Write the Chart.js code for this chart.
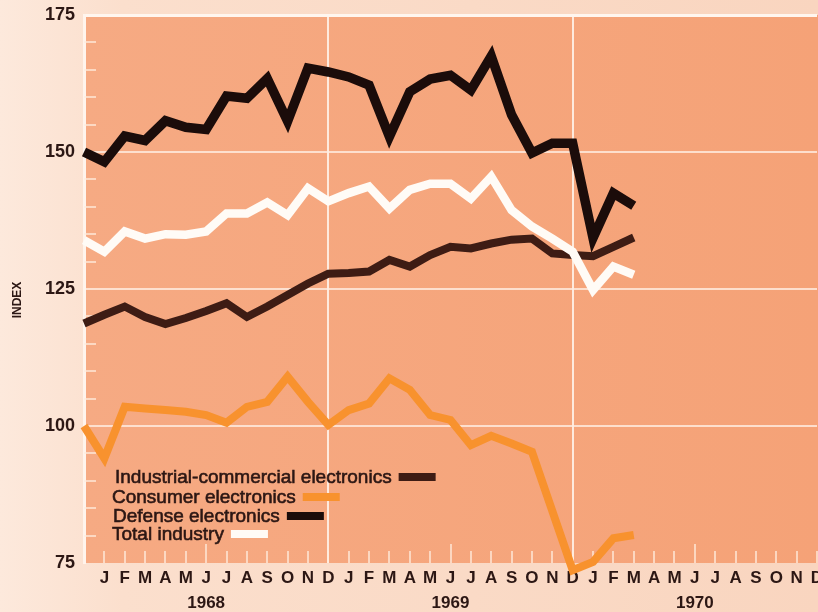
<!DOCTYPE html>
<html><head><meta charset="utf-8">
<script src="https://cdn.jsdelivr.net/npm/chart.js@4/dist/chart.umd.min.js"></script>
<style>html,body{margin:0;padding:0;background:#FBDCC8;}canvas{display:block;}</style>
</head><body>
<canvas id="c" width="818" height="612"></canvas>
<script>
// ---- data ----
const monthLetters = ['J','F','M','A','M','J','J','A','S','O','N','D'];
const years = ['1968','1969','1970'];
const startCategory = 'D 1967';
const yTickValues = [75, 100, 125, 150, 175];
const seriesNames = ['Industrial-commercial electronics', 'Consumer electronics', 'Defense electronics', 'Total industry'];
// Dec 1967 .. Mar 1970
const industrial = [118.7,120.3,121.8,119.9,118.6,119.7,121.0,122.4,119.9,121.8,123.9,126.0,127.8,127.9,128.2,130.3,129.1,131.2,132.7,132.4,133.3,134.0,134.2,131.5,131.2,131.0,132.7,134.4];
const consumer   = [100.0,94.1,103.5,103.2,102.9,102.6,102.0,100.6,103.5,104.4,109.0,104.4,100.2,102.9,104.1,108.7,106.6,102.0,101.1,96.5,98.2,96.8,95.3,84.5,73.7,75.2,79.5,80.1];
const defense    = [150.0,148.2,152.9,152.1,155.7,154.5,154.1,160.2,159.8,163.4,155.6,165.3,164.6,163.7,162.2,152.8,161.0,163.3,164.0,161.3,167.5,156.8,149.8,151.6,151.6,134.3,142.5,140.2];
const total      = [133.9,131.8,135.5,134.2,135.0,134.9,135.5,138.8,138.8,140.8,138.5,143.4,141.0,142.5,143.7,139.7,143.1,144.2,144.2,141.5,145.5,139.4,136.4,134.2,131.8,124.8,129.1,127.6];

const categories = [startCategory];
years.forEach(y => monthLetters.forEach(m => categories.push(m + ' ' + y)));

const COLORS = {
  industrial: '#3e1c14',
  consumer: '#F8922E',
  defense: '#1b0c0a',
  total: '#FFFBF6',
  text: '#2c1714'
};

const bgPlugin = {
  id: 'bg',
  beforeDraw(chart) {
    const {ctx, chartArea: a, width, height} = chart;
    ctx.save();
    const g = ctx.createLinearGradient(0, 0, width, 0);
    g.addColorStop(0, '#FDE9DC');
    g.addColorStop(0.15, '#FBDFCD');
    g.addColorStop(1, '#F9D5BF');
    ctx.fillStyle = g;
    ctx.fillRect(0, 0, width, height);
    const g2 = ctx.createLinearGradient(a.left, 0, a.right, 0);
    g2.addColorStop(0, '#F6AA83');
    g2.addColorStop(1, '#F5A277');
    ctx.fillStyle = g2;
    ctx.fillRect(a.left, a.top, width - a.left, a.bottom - a.top);
    ctx.restore();
  }
};

const minorTicksPlugin = {
  id: 'minorTicks',
  beforeDatasetsDraw(chart) {
    const {ctx, chartArea: a, scales} = chart;
    ctx.save();
    ctx.strokeStyle = 'rgba(255,236,222,0.7)';
    ctx.lineWidth = 2;
    for (let v = 80; v < 175; v += 5) {
      if (v % 25 === 0) continue;
      const y = Math.round(scales.y.getPixelForValue(v));
      ctx.beginPath(); ctx.moveTo(a.left, y); ctx.lineTo(a.left + 12, y); ctx.stroke();
    }
    for (let i = 1; i < categories.length; i++) {
      const x = Math.round(scales.x.getPixelForValue(i));
      const len = ((i - 1) % 12 === 5) ? 19 : 12;
      ctx.beginPath(); ctx.moveTo(x, a.bottom); ctx.lineTo(x, a.bottom - len); ctx.stroke();
    }
    ctx.restore();
  }
};

const legendPlugin = {
  id: 'customLegend',
  afterDatasetsDraw(chart) {
    const {ctx, chartArea: a} = chart;
    const items = [
      {name: seriesNames[0], color: COLORS.industrial, dx: 31, dy: 80},
      {name: seriesNames[1], color: COLORS.consumer, dx: 28, dy: 60},
      {name: seriesNames[2], color: COLORS.defense, dx: 29, dy: 41},
      {name: seriesNames[3], color: COLORS.total, dx: 28, dy: 23}
    ];
    ctx.save();
    ctx.font = '19px "Liberation Sans", Arial, sans-serif';
    ctx.textBaseline = 'alphabetic';
    ctx.textAlign = 'left';
    ctx.lineWidth = 0.6;
    items.forEach(it => {
      const x = a.left + it.dx, y = a.bottom - it.dy;
      ctx.fillStyle = COLORS.text;
      ctx.strokeStyle = COLORS.text;
      ctx.fillText(it.name, x, y);
      ctx.strokeText(it.name, x, y);
      const w = ctx.measureText(it.name).width;
      ctx.fillStyle = it.color;
      ctx.fillRect(x + w + 7, y - 10, 37, 8);
    });
    ctx.restore();
  }
};

const indexLabelPlugin = {
  id: 'indexLabel',
  afterDraw(chart) {
    const {ctx} = chart;
    ctx.save();
    ctx.translate(18, 300);
    ctx.rotate(-Math.PI / 2);
    ctx.font = 'bold 12px "Liberation Sans", Arial, sans-serif';
    ctx.fillStyle = COLORS.text;
    ctx.textAlign = 'center';
    ctx.textBaseline = 'middle';
    ctx.fillText('INDEX', 0, 0);
    ctx.restore();
  }
};

function ds(label, data, color, width, order) {
  return {
    label, data, borderColor: color, backgroundColor: color,
    borderWidth: width, pointRadius: 0, tension: 0,
    borderJoinStyle: 'miter', borderCapStyle: 'butt',
    clip: false, order, fill: false
  };
}

new Chart(document.getElementById('c'), {
  type: 'line',
  data: {
    labels: categories,
    datasets: [
      ds(seriesNames[0], industrial, COLORS.industrial, 8, 2),
      ds(seriesNames[1], consumer, COLORS.consumer, 8, 3),
      ds(seriesNames[2], defense, COLORS.defense, 9.5, 1),
      ds(seriesNames[3], total, COLORS.total, 8.5, 0)
    ]
  },
  options: {
    responsive: false,
    animation: false,
    devicePixelRatio: 1,
    layout: {padding: {top: 15, right: 1, left: 0, bottom: 0}},
    plugins: {legend: {display: false}, tooltip: {enabled: false}},
    scales: {
      x: {
        type: 'category',
        offset: false,
        afterFit(s) { s.height = 49; s.paddingLeft = 0; s.paddingRight = 0; },
        grid: {
          drawTicks: false,
          color: c => (c.index > 0 && c.index < 36 && c.index % 12 === 0) ? 'rgba(255,242,232,0.9)' : 'rgba(0,0,0,0)',
          lineWidth: 2
        },
        border: {display: false},
        ticks: {
          autoSkip: false, maxRotation: 0, minRotation: 0, padding: 3,
          color: COLORS.text,
          font: {family: '"Liberation Sans", Arial, sans-serif', size: 17, weight: 'bold', lineHeight: 1.45},
          callback(val, idx) {
            if (idx === 0) return '';
            const m = (idx - 1) % 12;
            const letter = monthLetters[m];
            if (m === 5) return [letter, years[Math.floor((idx - 1) / 12)]];
            return letter;
          }
        }
      },
      y: {
        min: 75, max: 175,
        afterFit(s) { s.width = 84; s.paddingTop = 0; s.paddingBottom = 0; },
        afterBuildTicks(s) { s.ticks = yTickValues.map(v => ({value: v})); },
        grid: {
          drawTicks: false,
          color: c => c.tick && c.tick.value === 175 ? '#FFF6EF' : (c.tick && c.tick.value === 75 ? 'rgba(0,0,0,0)' : 'rgba(255,238,226,0.8)'),
          lineWidth: c => c.tick && c.tick.value === 175 ? 3 : 2
        },
        border: {display: true, color: '#FFF4EC', width: 3},
        ticks: {
          padding: 9,
          color: COLORS.text,
          font: {family: '"Liberation Sans", Arial, sans-serif', size: 18, weight: 'bold'}
        }
      }
    }
  },
  plugins: [bgPlugin, minorTicksPlugin, legendPlugin, indexLabelPlugin]
});
</script>
</body></html>
